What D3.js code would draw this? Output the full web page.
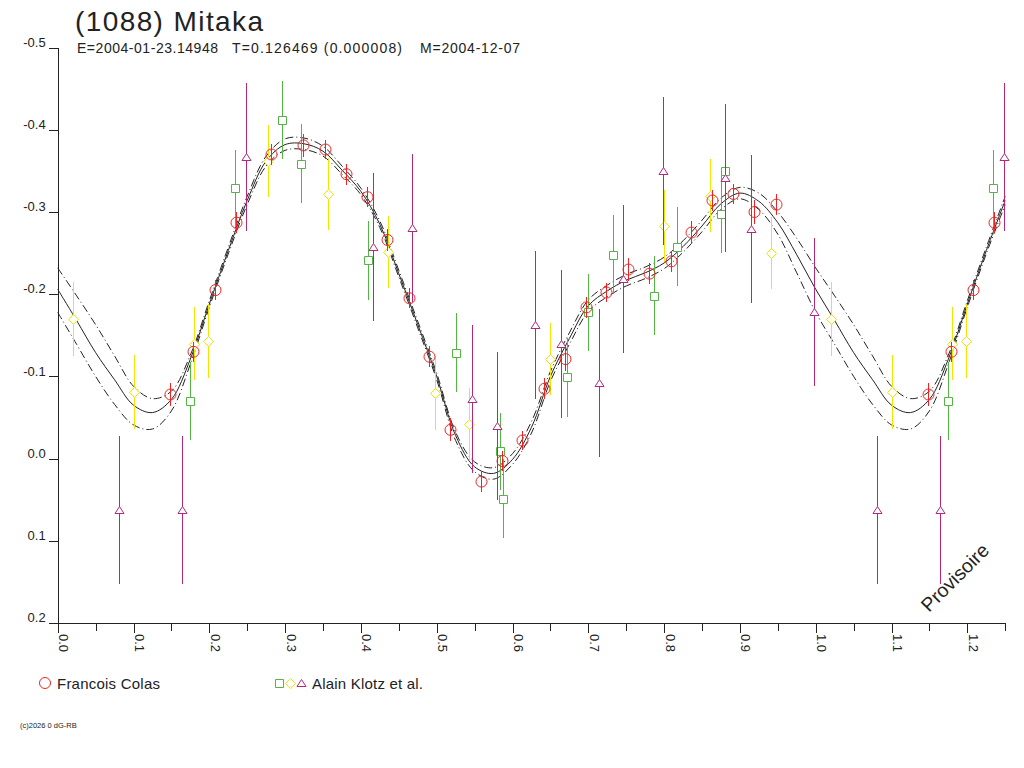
<html>
  <head>
    <meta charset="utf-8">
    <script src="https://d3js.org/d3.v7.min.js"></script>
    <title>(1088) Mitaka</title>
    <style>
      body {
        margin: 0px;
        background: white;
      }
      text {
        font-family: 'Liberation Sans', Arial, sans-serif;
        fill: #222;
      }
      .axis path, .axis line {
        stroke: #222;
        shape-rendering: crispEdges;
      }
      .axis text {
        font-size: 13px;
      }
      .fit {
        fill: none;
        stroke: #222;
        stroke-width: 1;
      }
      .fit--env {
        stroke-dasharray: 8,3,1,3;
      }
      .bar {
        stroke-width: 1;
        shape-rendering: crispEdges;
      }
    </style>
  </head>
  <body>
    <svg width="1024" height="768"></svg>
    <script>

      // ---- data ----
      const xLabels = ['0.0','0.1','0.2','0.3','0.4','0.5','0.6','0.7','0.8','0.9','1.0','1.1','1.2'];
      const xMinor = [0.05,0.15,0.25,0.35,0.45,0.55,0.65,0.75,0.85,0.95,1.05,1.15,1.25];
      const yLabels = ['-0.5','-0.4','-0.3','-0.2','-0.1','0.0','0.1','0.2'];

      // fitted lightcurve, sampled over one rotation
      const fitPhase = [0,0.025,0.05,0.075,0.1,0.125,0.15,0.175,0.2,0.225,0.25,0.275,0.3,0.325,0.35,0.375,0.4,0.425,0.45,0.475,
                        0.5,0.525,0.55,0.575,0.6,0.625,0.65,0.675,0.7,0.725,0.75,0.775,0.8,0.825,0.85,0.875,0.9,0.925,0.95,0.975,1.0];
      const fitMag = [-0.206,-0.168,-0.129,-0.096,-0.065,-0.056,-0.072,-0.121,-0.188,-0.253,-0.314,-0.362,-0.382,-0.383,-0.374,-0.351,-0.325,-0.285,-0.225,-0.163,
                      -0.100,-0.028,0.010,0.018,0.001,-0.038,-0.100,-0.146,-0.186,-0.204,-0.217,-0.226,-0.238,-0.258,-0.283,-0.310,-0.323,-0.313,-0.287,-0.248,-0.206];
      const fitUpper = [-0.232,-0.198,-0.163,-0.125,-0.088,-0.073,-0.082,-0.126,-0.192,-0.257,-0.319,-0.368,-0.389,-0.390,-0.380,-0.356,-0.329,-0.289,-0.229,-0.167,
                        -0.104,-0.032,0.004,0.011,-0.006,-0.045,-0.106,-0.153,-0.193,-0.211,-0.224,-0.233,-0.245,-0.265,-0.290,-0.317,-0.330,-0.323,-0.300,-0.268,-0.232];
      const fitLower = [-0.178,-0.139,-0.100,-0.066,-0.041,-0.036,-0.058,-0.115,-0.184,-0.249,-0.309,-0.356,-0.375,-0.376,-0.368,-0.346,-0.321,-0.281,-0.221,-0.159,
                        -0.096,-0.022,0.016,0.025,0.007,-0.031,-0.094,-0.139,-0.179,-0.197,-0.210,-0.219,-0.231,-0.251,-0.276,-0.303,-0.316,-0.303,-0.273,-0.226,-0.178];

      // Francois Colas
      const colasPhase = [0.148,0.179,0.207,0.235,0.282,0.324,0.353,0.380,0.408,0.435,0.463,0.490,0.518,0.558,
                          0.586,0.613,0.642,0.669,0.697,0.724,0.753,0.780,0.809,0.835,0.863,0.891,0.919,0.947];
      const colasMag = [-0.078,-0.130,-0.205,-0.287,-0.370,-0.381,-0.376,-0.346,-0.318,-0.266,-0.195,-0.124,-0.035,0.028,
                        0.003,-0.022,-0.085,-0.121,-0.184,-0.202,-0.230,-0.225,-0.240,-0.275,-0.314,-0.322,-0.300,-0.309];
      const colasErr = [0.014,0.012,0.012,0.013,0.013,0.014,0.012,0.013,0.012,0.013,0.012,0.013,0.014,0.013,
                        0.012,0.012,0.013,0.014,0.013,0.012,0.014,0.013,0.013,0.014,0.013,0.012,0.015,0.013];

      // Alain Klotz et al. (three sessions)
      const klotzSqPhase = [0.174,0.234,0.296,0.321,0.410,0.526,0.584,0.588,0.672,0.700,0.732,0.787,0.817,0.875,0.881];
      const klotzSqMag = [-0.070,-0.329,-0.412,-0.359,-0.241,-0.129,-0.009,0.049,-0.099,-0.178,-0.248,-0.198,-0.258,-0.298,-0.350];
      const klotzSqErr = [0.047,0.047,0.047,0.048,0.048,0.048,0.047,0.048,0.048,0.047,0.048,0.048,0.048,0.048,0.047];

      const klotzDiPhase = [0.020,0.100,0.180,0.198,0.278,0.357,0.436,0.498,0.543,0.649,0.800,0.861,0.941];
      const klotzDiMag = [-0.170,-0.081,-0.140,-0.143,-0.362,-0.322,-0.251,-0.080,-0.042,-0.121,-0.283,-0.320,-0.250];
      const klotzDiErr = [0.045,0.045,0.044,0.045,0.044,0.044,0.044,0.045,0.044,0.044,0.044,0.044,0.044];

      const klotzTrPhase = [0.081,0.164,0.249,0.416,0.468,0.546,0.579,0.630,0.664,0.714,0.746,0.798,0.881,0.914,0.998];
      const klotzTrMag = [0.062,0.062,-0.367,-0.257,-0.280,-0.072,-0.040,-0.162,-0.140,-0.092,-0.219,-0.350,-0.341,-0.279,-0.178];
      const klotzTrErr = [0.090,0.090,0.090,0.090,0.090,0.090,0.090,0.090,0.090,0.090,0.090,0.090,0.090,0.090,0.090];

      var svg = d3.select('svg');
      var maxPhase = 1.25;

      var xScale = d3.scaleLinear().domain([0, maxPhase]).range([57.7, 1005.2]);
      var yScale = d3.scaleLinear().domain([-0.5, 0.2]).range([47.6, 623]);

      // repeat the start of the rotation after phase 1
      function wrapCurve(vals) {
        var pts = fitPhase.map((p, i) => [p, vals[i]]);
        fitPhase.forEach((p, i) => {
          if (p > 0 && p + 1 <= maxPhase) pts.push([p + 1, vals[i]]);
        });
        return pts.sort((a, b) => a[0] - b[0]);
      }
      function wrapPoints(ph, mag, err) {
        var pts = ph.map((p, i) => ({ p: p, m: mag[i], e: err[i] }));
        ph.forEach((p, i) => {
          if (p + 1 <= maxPhase) pts.push({ p: p + 1, m: mag[i], e: err[i] });
        });
        return pts;
      }

      // title
      svg.append('text')
        .attr('x', 75).attr('y', 31)
        .attr('font-size', 28)
        .attr('textLength', 188)
        .text('(1088) Mitaka');
      var sub = [
        { t: 'E=2004-01-23.14948', x: 77, w: 141 },
        { t: 'T=0.126469 (0.000008)', x: 232, w: 170 },
        { t: 'M=2004-12-07', x: 420, w: 100 }
      ];
      svg.selectAll('.sub').data(sub).enter().append('text')
        .attr('class', 'sub')
        .attr('x', d => d.x).attr('y', 53)
        .attr('font-size', 14)
        .attr('textLength', d => d.w)
        .text(d => d.t);

      // axes
      var xAxisMinor = d3.axisBottom(xScale).tickValues(xMinor).tickSize(8).tickSizeOuter(0).tickFormat('');
      var xAxisMajor = d3.axisBottom(xScale).tickValues(xLabels.map(Number)).tickSize(10).tickSizeOuter(0)
        .tickFormat((d, i) => xLabels[i]);
      var yAxis = d3.axisLeft(yScale).tickValues(yLabels.map(Number)).tickSize(9).tickSizeOuter(0)
        .tickFormat((d, i) => yLabels[i]);

      var xAxisG = svg.append('g').attr('class', 'axis').attr('transform', 'translate(0,623)');
      xAxisG.call(xAxisMinor);
      var xMajG = svg.append('g').attr('class', 'axis').attr('transform', 'translate(0,623)');
      xMajG.call(xAxisMajor);
      xMajG.selectAll('.tick text')
        .attr('transform', 'rotate(90)')
        .attr('x', 11).attr('y', -1).attr('dy', null)
        .attr('text-anchor', 'start');

      var yAxisG = svg.append('g').attr('class', 'axis').attr('transform', 'translate(57.7,0)');
      yAxisG.call(yAxis);
      yAxisG.selectAll('.tick text')
        .attr('x', -12).attr('dy', '-0.1em');

      // fit + envelope
      var line = d3.line()
        .x(d => xScale(d[0]))
        .y(d => yScale(d[1]))
        .curve(d3.curveCatmullRom);
      var marksG = svg.append('g');
      marksG.append('path').attr('class', 'fit fit--env').attr('d', line(wrapCurve(fitUpper)));
      marksG.append('path').attr('class', 'fit fit--env').attr('d', line(wrapCurve(fitLower)));
      marksG.append('path').attr('class', 'fit').attr('d', line(wrapCurve(fitMag)));

      var shapes = {
        square: 'M-4,-4H4V4H-4Z',
        diamond: 'M0,-5L5,0L0,5L-5,0Z',
        triangle: 'M0,-4L4.5,3L-4.5,3Z'
      };

      var klotz = [
        { shape: 'square', color: '#55b544', pts: wrapPoints(klotzSqPhase, klotzSqMag, klotzSqErr) },
        { shape: 'diamond', color: '#f5e400', pts: wrapPoints(klotzDiPhase, klotzDiMag, klotzDiErr) },
        { shape: 'triangle', color: '#b1287c', pts: wrapPoints(klotzTrPhase, klotzTrMag, klotzTrErr) }
      ];

      klotz.forEach(function (s) {
        var g = marksG.append('g');
        g.selectAll('line').data(s.pts).enter().append('line')
          .attr('class', 'bar')
          .attr('stroke', s.color)
          .attr('x1', d => Math.round(xScale(d.p)) + 0.5)
          .attr('x2', d => Math.round(xScale(d.p)) + 0.5)
          .attr('y1', d => yScale(d.m - d.e))
          .attr('y2', d => yScale(d.m + d.e));
        g.selectAll('path').data(s.pts).enter().append('path')
          .attr('d', shapes[s.shape])
          .attr('fill', 'white')
          .attr('stroke', s.color)
          .attr('transform', d => `translate(${Math.round(xScale(d.p)) + 0.5},${Math.round(yScale(d.m)) + 0.5})`);
      });

      var colas = wrapPoints(colasPhase, colasMag, colasErr);
      var colasG = marksG.append('g');
      colasG.selectAll('line').data(colas).enter().append('line')
        .attr('class', 'bar')
        .attr('stroke', '#ee2424')
        .attr('x1', d => Math.round(xScale(d.p)) + 0.5)
        .attr('x2', d => Math.round(xScale(d.p)) + 0.5)
        .attr('y1', d => yScale(d.m - d.e))
        .attr('y2', d => yScale(d.m + d.e));
      colasG.selectAll('circle').data(colas).enter().append('circle')
        .attr('cx', d => Math.round(xScale(d.p)) + 0.5)
        .attr('cy', d => yScale(d.m))
        .attr('r', 5.5)
        .attr('fill', 'none')
        .attr('stroke', '#ee2424');

      // legend
      var legend = svg.append('g').attr('class', 'legend');
      legend.append('circle').attr('cx', 45).attr('cy', 683).attr('r', 5.5)
        .attr('fill', 'none').attr('stroke', '#ee2424');
      legend.append('text').attr('x', 57).attr('y', 689).attr('font-size', 15)
        .attr('textLength', 103).text('Francois Colas');
      klotz.forEach(function (s, i) {
        legend.append('path')
          .attr('d', shapes[s.shape])
          .attr('fill', 'white')
          .attr('stroke', s.color)
          .attr('transform', `translate(${279.5 + i * 11},683.5)`);
      });
      legend.append('text').attr('x', 312).attr('y', 689).attr('font-size', 15)
        .attr('textLength', 111).text('Alain Klotz et al.');

      svg.append('text')
        .attr('transform', 'translate(929,613) rotate(-45)')
        .attr('font-size', 19.5)
        .text('Provisoire');

      svg.append('text')
        .attr('x', 20).attr('y', 728)
        .attr('font-size', 7.5)
        .text('(c)2026 0 dG-RB');
    </script>
  </body>
</html>
